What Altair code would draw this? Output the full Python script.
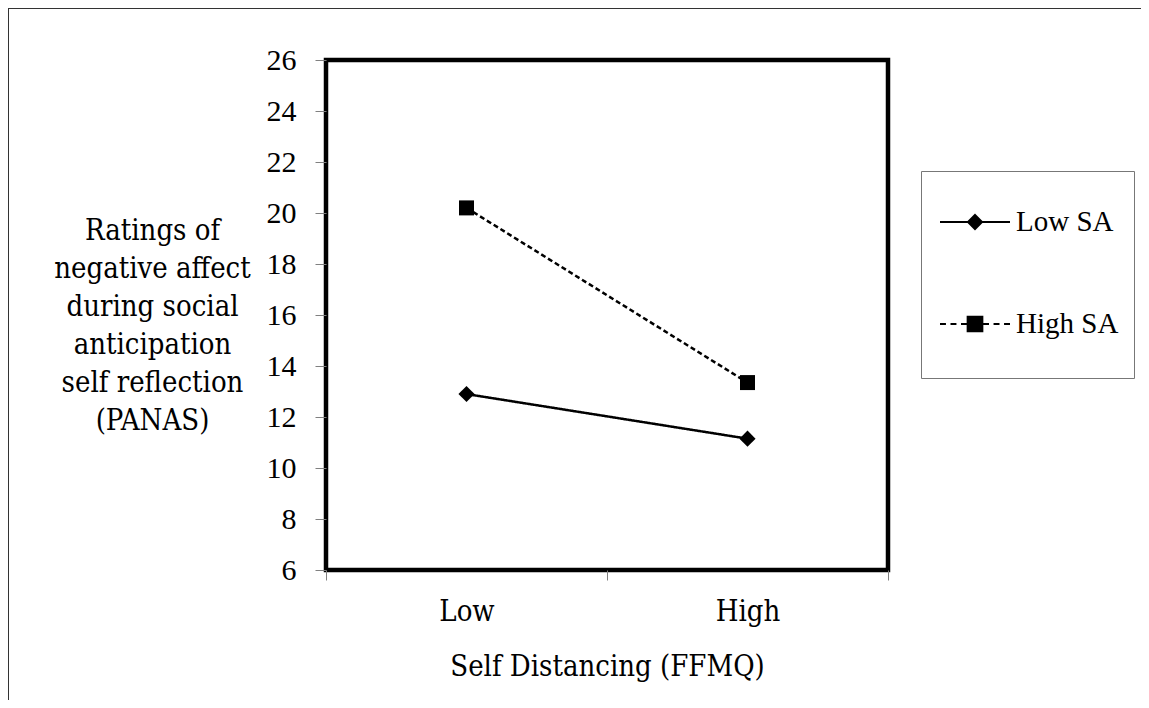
import altair as alt
import pandas as pd

# ---- data ----
levels = ["Low", "High"]
series = ["Low SA", "High SA"]
low_sa = [12.9, 11.15]
high_sa = [20.2, 13.35]
y_ticks = [6, 8, 10, 12, 14, 16, 18, 20, 22, 24, 26]
y_title = ["Ratings of", "negative affect", "during social",
           "anticipation", "self reflection", "(PANAS)"]
x_title = "Self Distancing (FFMQ)"

rows = []
for s, vals in zip(series, [low_sa, high_sa]):
    for lv, v in zip(levels, vals):
        rows.append({"level": lv, "series": s, "value": v})
df = pd.DataFrame(rows)

W, H = 562, 510
PAD = {"left": 318, "top": 52, "right": 253, "bottom": 130}
TITLE_FONT = "DejaVu Serif Condensed"
NUM_FONT = "Liberation Serif"

x_enc = alt.X(
    "level:N", sort=levels,
    scale=alt.Scale(type="band", paddingInner=0, paddingOuter=0),
    axis=alt.Axis(
        title=x_title, labelAngle=0, tickBand="extent", domain=False,
        tickSize=10, tickColor="#808080", tickWidth=1,
        labelFont=TITLE_FONT, labelFontSize=29, labelColor="black",
        labelPadding=17,
        titleFont=TITLE_FONT, titleFontSize=29, titleFontWeight="normal",
        titleColor="black", titleBaseline="middle", titleY=96,
    ),
)
y_enc = alt.Y(
    "value:Q",
    scale=alt.Scale(domain=[6, 26], nice=False, zero=False),
    axis=alt.Axis(
        values=y_ticks, grid=False, domain=False,
        tickSize=11, tickColor="#808080", tickWidth=1,
        labelFont=NUM_FONT, labelFontSize=30, labelColor="black",
        labelPadding=19,
        title=y_title, titleAngle=0, titleAlign="center",
        titleBaseline="middle", titleX=-174, titleY=170,
        titleFont=TITLE_FONT, titleFontSize=29, titleFontWeight="normal",
        titleColor="black", titleLineHeight=38,
    ),
)

base = alt.Chart(df)

lines = base.mark_line(color="black", strokeWidth=2.5).encode(
    x=x_enc, y=y_enc,
    detail="series:N",
    strokeDash=alt.StrokeDash(
        "series:N", legend=None,
        scale=alt.Scale(domain=series, range=[[1, 0], [5, 3]]),
    ),
)

points = base.mark_point(filled=True, color="black", opacity=1).encode(
    x=alt.X("level:N", sort=levels),
    y=alt.Y("value:Q"),
    shape=alt.Shape("series:N", legend=None,
                    scale=alt.Scale(domain=series, range=["diamond", "square"])),
    size=alt.Size("series:N", legend=None,
                  scale=alt.Scale(domain=series, range=[260, 225])),
)

# legend symbols: line + marker drawn as one custom path each
# (zero-length moves at top/bottom keep each entry the same height)
pad_marks = "M0,-1L0,-1M0,1L0,1"
low_path = "M-1,0L1,0M0,-0.2L0.2,0L0,0.2L-0.2,0Z" + pad_marks
high_path = ("M-1,0L-0.83,0M-0.7,0L-0.53,0M-0.4,0L-0.23,0"
             "M0.23,0L0.4,0M0.53,0L0.7,0M0.83,0L1,0"
             "M-0.21,-0.21L0.21,-0.21L0.21,0.21L-0.21,0.21Z" + pad_marks)

legend_layer = base.mark_point(
    filled=True, fill="black", stroke="black", strokeWidth=2, size=4900, opacity=1
).encode(
    x=alt.X("level:N", sort=levels),
    y=alt.Y("value:Q"),
    shape=alt.Shape(
        "series:N",
        scale=alt.Scale(domain=series, range=[low_path, high_path]),
        legend=alt.Legend(
            orient="none", legendX=595, legendY=111, title=None,
            padding=15, strokeColor="#777777", fillColor="white",
            labelFont=NUM_FONT, labelFontSize=29, labelColor="black",
            symbolSize=4900, symbolStrokeWidth=2, rowPadding=24,
            labelOffset=5, symbolOffset=3,
        ),
    ),
).transform_filter("false")

frame_df = pd.DataFrame({"k": [0]})
border_left = alt.Chart(frame_df).mark_rule(color="#333333", strokeWidth=1).encode(
    x=alt.value(-317.5), y=alt.value(-52), y2=alt.value(H + PAD["bottom"])
)
border_top = alt.Chart(frame_df).mark_rule(color="#333333", strokeWidth=1).encode(
    y=alt.value(-51.5), x=alt.value(-318), x2=alt.value(W + PAD["right"])
)

chart = alt.layer(lines, points, legend_layer, border_left, border_top).resolve_scale(
    shape="independent", size="independent", strokeDash="independent"
).properties(
    width=W, height=H,
    autosize=alt.AutoSizeParams(type="none"),
    padding=PAD,
    background="white",
).configure_view(
    stroke="black", strokeWidth=4.5
)

chart.save("out.html", embed_options={"renderer": "svg", "actions": False})
